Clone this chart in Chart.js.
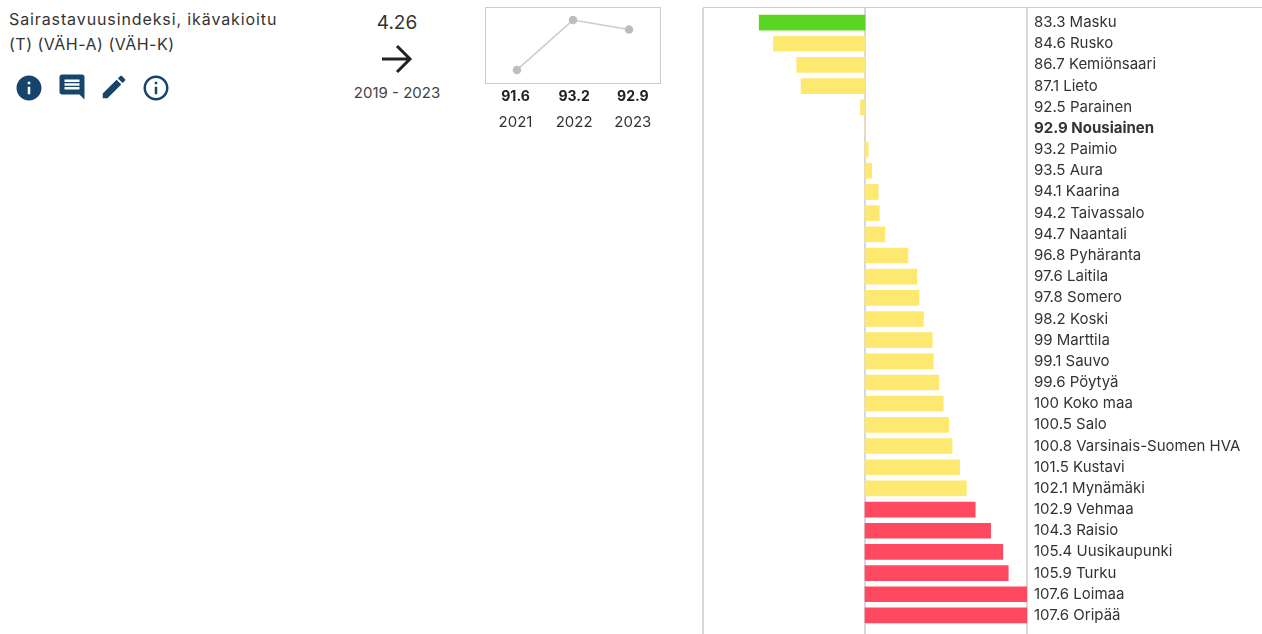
<!DOCTYPE html>
<html lang="fi"><head><meta charset="utf-8">
<script src="https://cdn.jsdelivr.net/npm/chart.js@4"></script>
<style>
html,body{margin:0;padding:0;background:#fff;overflow:hidden;width:1262px;height:634px;font-family:Inter,"Open Sans",sans-serif;color:#333}
.t{position:absolute;white-space:nowrap}
canvas{position:absolute}
svg{position:absolute}
</style></head><body>
<div class="t" style="left:9px;top:7px;font-size:16px;line-height:25px"><span style="letter-spacing:.89px">Sairastavuusindeksi, ikävakioitu</span><br><span style="letter-spacing:.5px">(T) (VÄH-A) (VÄH-K)</span></div>
<svg style="left:14px;top:73px" width="30" height="30" viewBox="0 0 24 24"><path fill="#17446b" d="M12 2C6.48 2 2 6.48 2 12s4.48 10 10 10 10-4.48 10-10S17.52 2 12 2zm1 15h-2v-6h2v6zm0-8h-2V7h2v2z"/></svg>
<svg style="left:57px;top:72px" width="30" height="30" viewBox="0 0 24 24"><path fill="#17446b" d="M21.99 4c0-1.1-.89-2-1.99-2H4c-1.1 0-2 .9-2 2v12c0 1.1.9 2 2 2h14l4 4-.01-18zM18 14H6v-2h12v2zm0-3H6V9h12v2zm0-3H6V6h12v2z"/></svg>
<svg style="left:99px;top:72px" width="30" height="30" viewBox="0 0 24 24"><path fill="#17446b" d="M3 17.25V21h3.75L17.81 9.94l-3.75-3.75L3 17.25zM20.71 7.04a1 1 0 0 0 0-1.41l-2.34-2.34a1 1 0 0 0-1.41 0l-1.83 1.83 3.75 3.75 1.83-1.83z"/></svg>
<svg style="left:141px;top:73px" width="30" height="30" viewBox="0 0 24 24"><path fill="#17446b" d="M11 7h2v2h-2zm0 4h2v6h-2zm1-9C6.48 2 2 6.48 2 12s4.48 10 10 10 10-4.48 10-10S17.52 2 12 2zm0 18c-4.41 0-8-3.59-8-8s3.59-8 8-8 8 3.59 8 8-3.59 8-8 8z"/></svg>
<div class="t" style="left:347px;width:100px;text-align:center;top:12px;font-size:19px;line-height:22px">4.26</div>
<svg style="left:380px;top:43px" width="34" height="32" viewBox="0 0 34 32"><path fill="none" stroke="#222" stroke-width="3" d="M2 16H30M17 3L30 16L17 29"/></svg>
<div class="t" style="left:337px;width:120px;text-align:center;top:84px;font-size:15px;line-height:18px;color:#444">2019 - 2023</div>
<canvas id="spark" style="left:470px;top:0" width="210" height="140"></canvas>
<canvas id="bars" style="left:695px;top:0" width="567" height="634"></canvas>
<script>
const categories=["Masku","Rusko","Kemiönsaari","Lieto","Parainen","Nousiainen","Paimio","Aura","Kaarina","Taivassalo","Naantali","Pyhäranta","Laitila","Somero","Koski","Marttila","Sauvo","Pöytyä","Koko maa","Salo","Varsinais-Suomen HVA","Kustavi","Mynämäki","Vehmaa","Raisio","Uusikaupunki","Turku","Loimaa","Oripää"];
const values=[83.3,84.6,86.7,87.1,92.5,92.9,93.2,93.5,94.1,94.2,94.7,96.8,97.6,97.8,98.2,99,99.1,99.6,100,100.5,100.8,101.5,102.1,102.9,104.3,105.4,105.9,107.6,107.6];
const selected="Nousiainen";
const baseValue=92.9, axisMin=78.2, axisMax=107.6;
const trendYears=[2021,2022,2023];
const trendValues=[91.6,93.2,92.9];
const FONT='Inter, "Open Sans", sans-serif';
const GREY='#cccccc';
const colorFor=v=>v<=83.3?'#5ad523':v>=102.9?'#ff4961':'#fde870';

new Chart(document.getElementById('bars'),{
 type:'bar',
 data:{labels:categories,datasets:[{
  data:values.map(v=>[baseValue,v]),
  backgroundColor:values.map(colorFor),
  barThickness:15,borderSkipped:false,borderWidth:0
 }]},
 options:{
  indexAxis:'y',responsive:false,animation:false,
  layout:{padding:{left:8,right:0,top:12,bottom:7.5}},
  plugins:{legend:{display:false},tooltip:{enabled:false}},
  scales:{
   x:{type:'linear',min:axisMin,max:axisMax,
      afterBuildTicks:s=>{s.ticks=[axisMin,baseValue,axisMax].map(value=>({value}));},
      afterFit:s=>{s.height=0;},
      grid:{display:false},border:{display:false},ticks:{display:false}},
   y:{type:'category',position:'right',grid:{display:false},border:{display:false},
      afterFit:s=>{s.width=235;},
      ticks:{padding:-1,color:'#333',crossAlign:'near',autoSkip:false,
       callback:function(v,i){return values[i]+' '+categories[i];},
       font:c=>({family:FONT,size:15,weight:categories[c.index]===selected?'bold':'normal'})}}
  }
 },
 plugins:[{id:'frame',beforeDatasetsDraw(ch){
   const c=ch.ctx,s=ch.scales.x;c.save();c.strokeStyle=GREY;c.lineWidth=1.5;
   s.ticks.forEach(t=>{const x=Math.round(s.getPixelForValue(t.value));c.beginPath();c.moveTo(x,8);c.lineTo(x,ch.height);c.stroke();});
   c.lineWidth=1;c.beginPath();c.moveTo(s.left,7.5);c.lineTo(ch.width,7.5);c.stroke();c.restore();
 }}]
});

new Chart(document.getElementById('spark'),{
 type:'line',
 data:{datasets:[{xAxisID:'x',data:trendYears.map((x,i)=>({x,y:trendValues[i]})),borderColor:GREY,borderWidth:1.5,
   pointBackgroundColor:'#bdbdbd',pointBorderColor:'#bdbdbd',pointRadius:3.5,tension:0}]},
 options:{
  responsive:false,animation:false,
  layout:{padding:{left:15,right:19,top:7,bottom:8}},
  plugins:{legend:{display:false},tooltip:{enabled:false}},
  scales:{
   x:{type:'linear',display:true,min:2020.43,max:2023.57,position:'bottom',
      afterFit:s=>{s.height=0;},grid:{display:false},border:{display:false},ticks:{display:false}},
   xv:{type:'linear',min:2020.48,max:2023.48,position:'bottom',
      afterBuildTicks:s=>{s.ticks=trendYears.map(value=>({value}));},
      afterFit:s=>{s.height=20;},
      grid:{display:false},border:{display:false},
      ticks:{padding:-3,color:'#222',font:{family:FONT,size:14,weight:'bold'},maxRotation:0,
       callback:v=>trendValues[trendYears.indexOf(v)]}},
   xy:{type:'linear',min:2020.48,max:2023.48,position:'bottom',
      afterBuildTicks:s=>{s.ticks=trendYears.map(value=>({value}));},
      afterFit:s=>{s.height=29;},
      grid:{display:false},border:{display:false},
      ticks:{padding:2,color:'#333',font:{family:FONT,size:15},maxRotation:0,callback:v=>String(v)}},
   y:{min:91.18,max:93.62,grid:{display:false},border:{display:false},ticks:{display:false},afterFit:s=>{s.width=0;}}
  }
 },
 plugins:[{id:'box',beforeDatasetsDraw(ch){const a=ch.chartArea,c=ch.ctx;c.save();c.strokeStyle=GREY;c.lineWidth=1;c.strokeRect(a.left+.5,a.top+.5,a.right-a.left-1,a.bottom-a.top);c.restore();}}]
});
</script>
</body></html>
